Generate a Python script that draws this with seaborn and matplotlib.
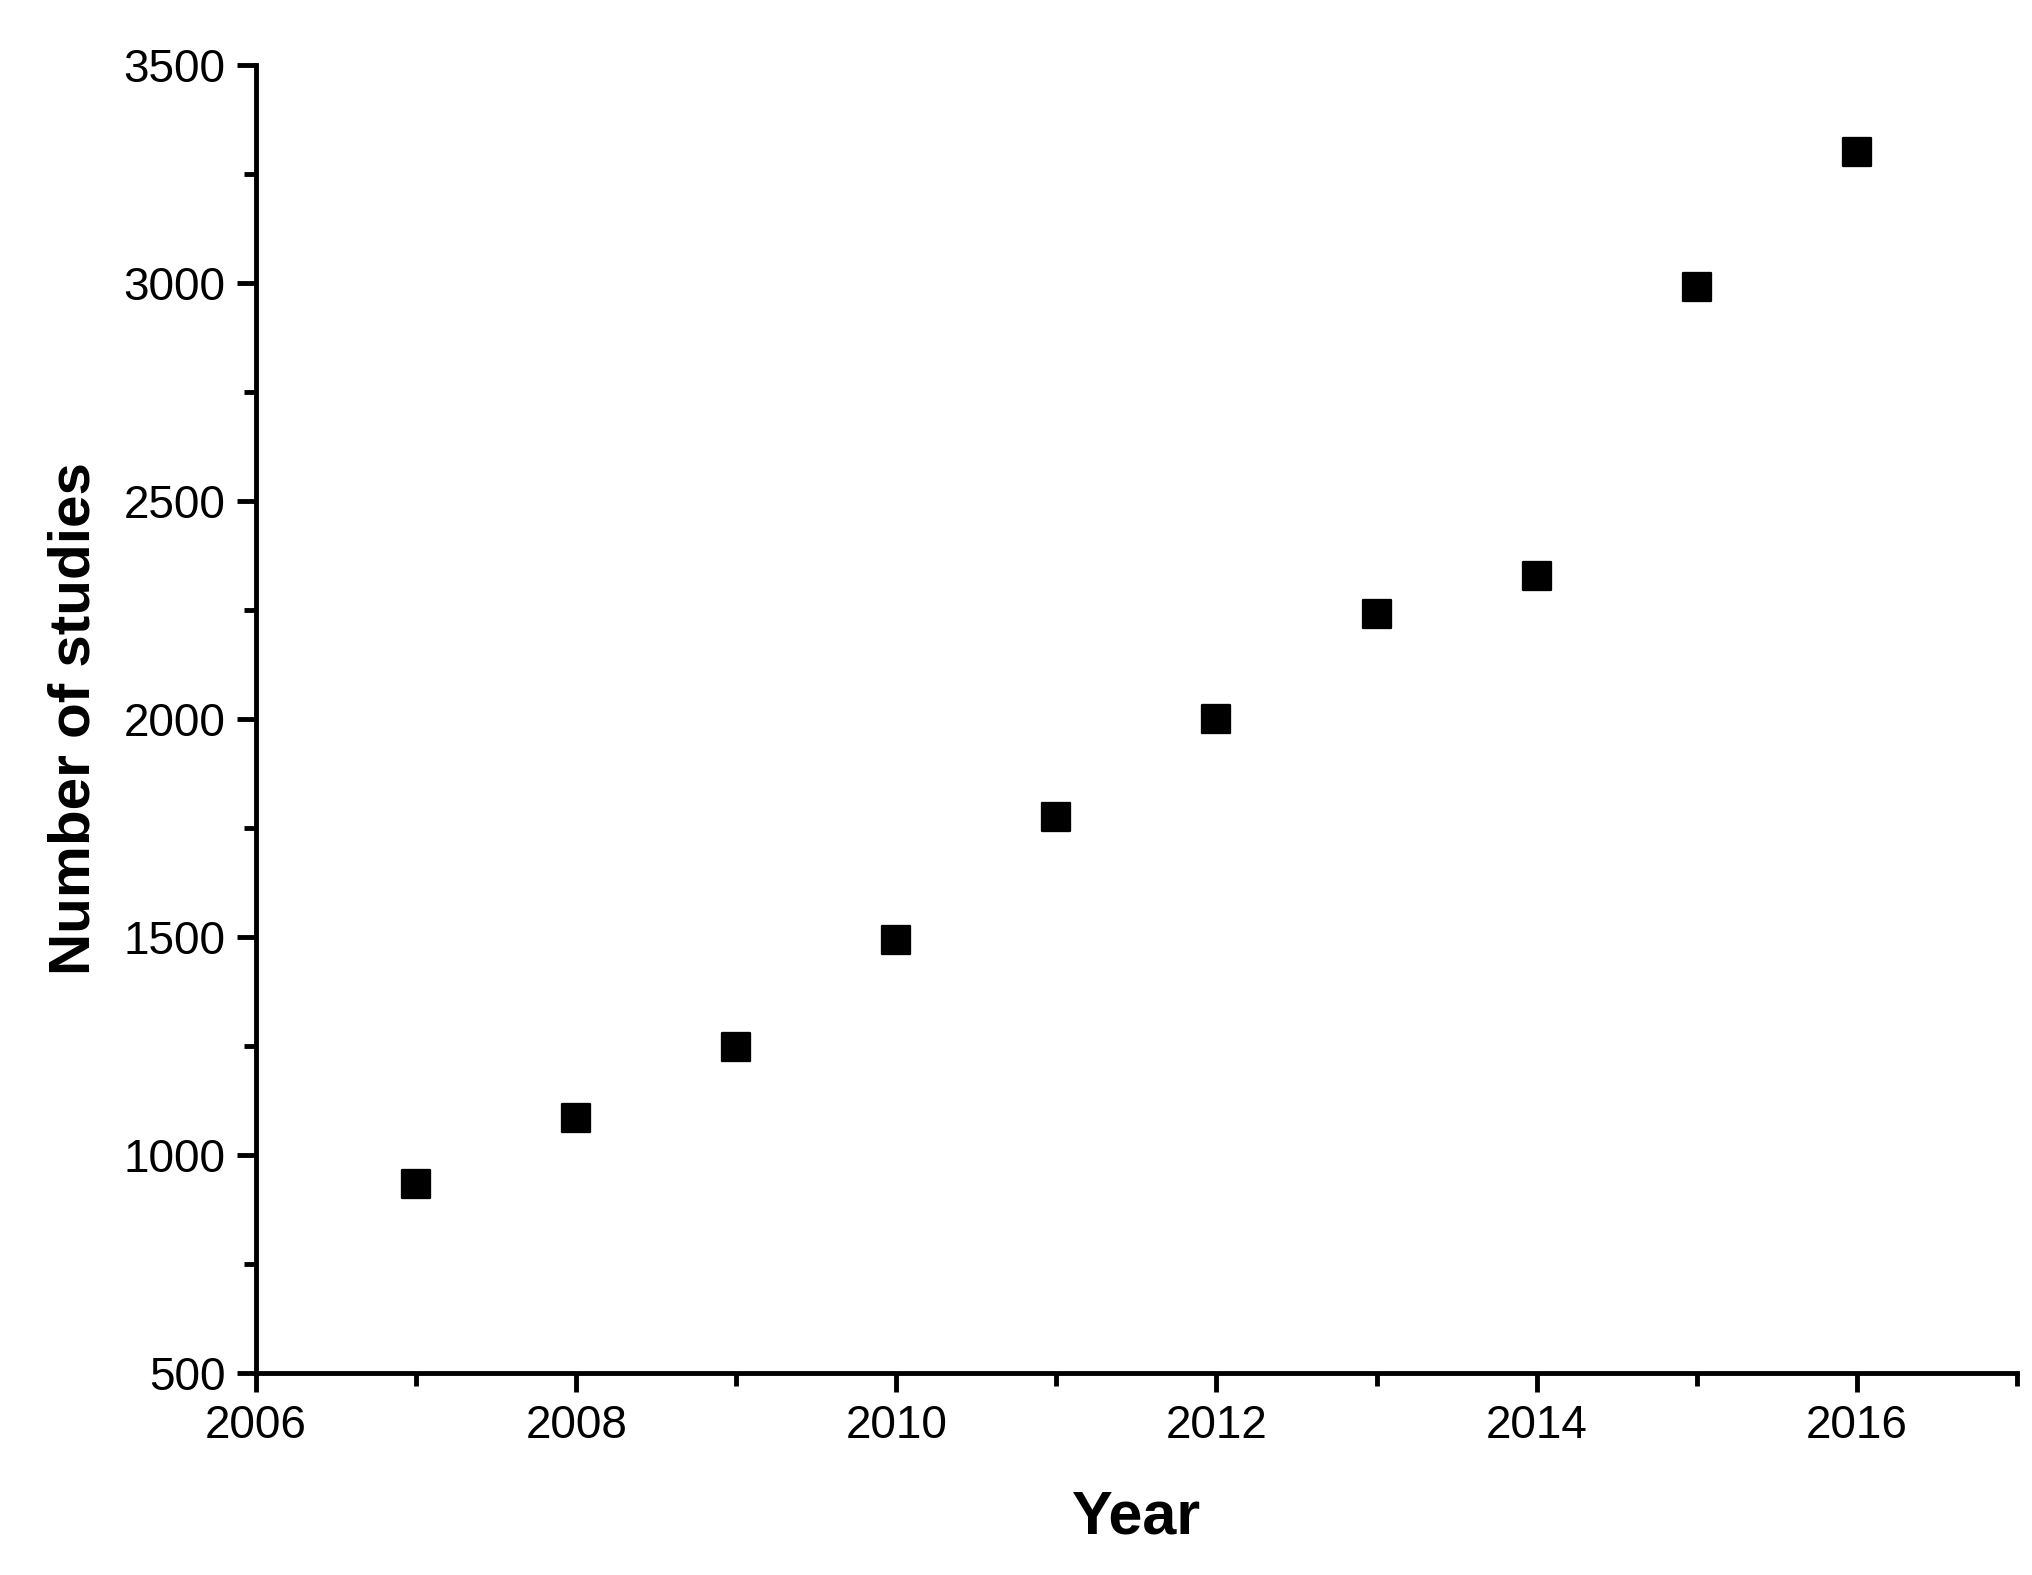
import matplotlib
matplotlib.use("Agg")
import matplotlib.pyplot as plt
import seaborn as sns
import pandas as pd
from matplotlib.ticker import MultipleLocator

years = [2007, 2008, 2009, 2010, 2011, 2012, 2013, 2014, 2015, 2016]
studies = [933, 1085, 1249, 1494, 1775, 2001, 2240, 2327, 2990, 3300]

sns.set_style("ticks")
plt.rcParams['font.family'] = ['Liberation Sans', 'DejaVu Sans']

df = pd.DataFrame({"Year": years, "Number of studies": studies})
fig = plt.figure(figsize=(20.33, 15.75), dpi=100)
ax = fig.add_axes([0.126, 0.128, 0.866, 0.831])
sns.scatterplot(data=df, x="Year", y="Number of studies", marker="s", s=430,
                color="black", edgecolor="black", ax=ax, legend=False)
ax.set_xlim(2006, 2017)
ax.set_ylim(500, 3500)
ax.xaxis.set_major_locator(MultipleLocator(2))
ax.xaxis.set_minor_locator(MultipleLocator(1))
ax.yaxis.set_major_locator(MultipleLocator(500))
ax.yaxis.set_minor_locator(MultipleLocator(250))
for s in ["top", "right"]:
    ax.spines[s].set_visible(False)
for s in ["left", "bottom"]:
    ax.spines[s].set_linewidth(3.5)
    ax.spines[s].set_color("black")
ax.tick_params(which="major", length=14, width=3.5, labelsize=33, direction="out",
               pad=8, colors="black")
ax.tick_params(which="minor", length=9, width=3.5, direction="out", colors="black")
ax.set_xlabel("Year", fontsize=44, fontweight="bold", labelpad=30, color="black")
ax.set_ylabel("Number of studies", fontsize=42, fontweight="bold", labelpad=16, color="black")
fig.savefig("out.png", dpi=100)
